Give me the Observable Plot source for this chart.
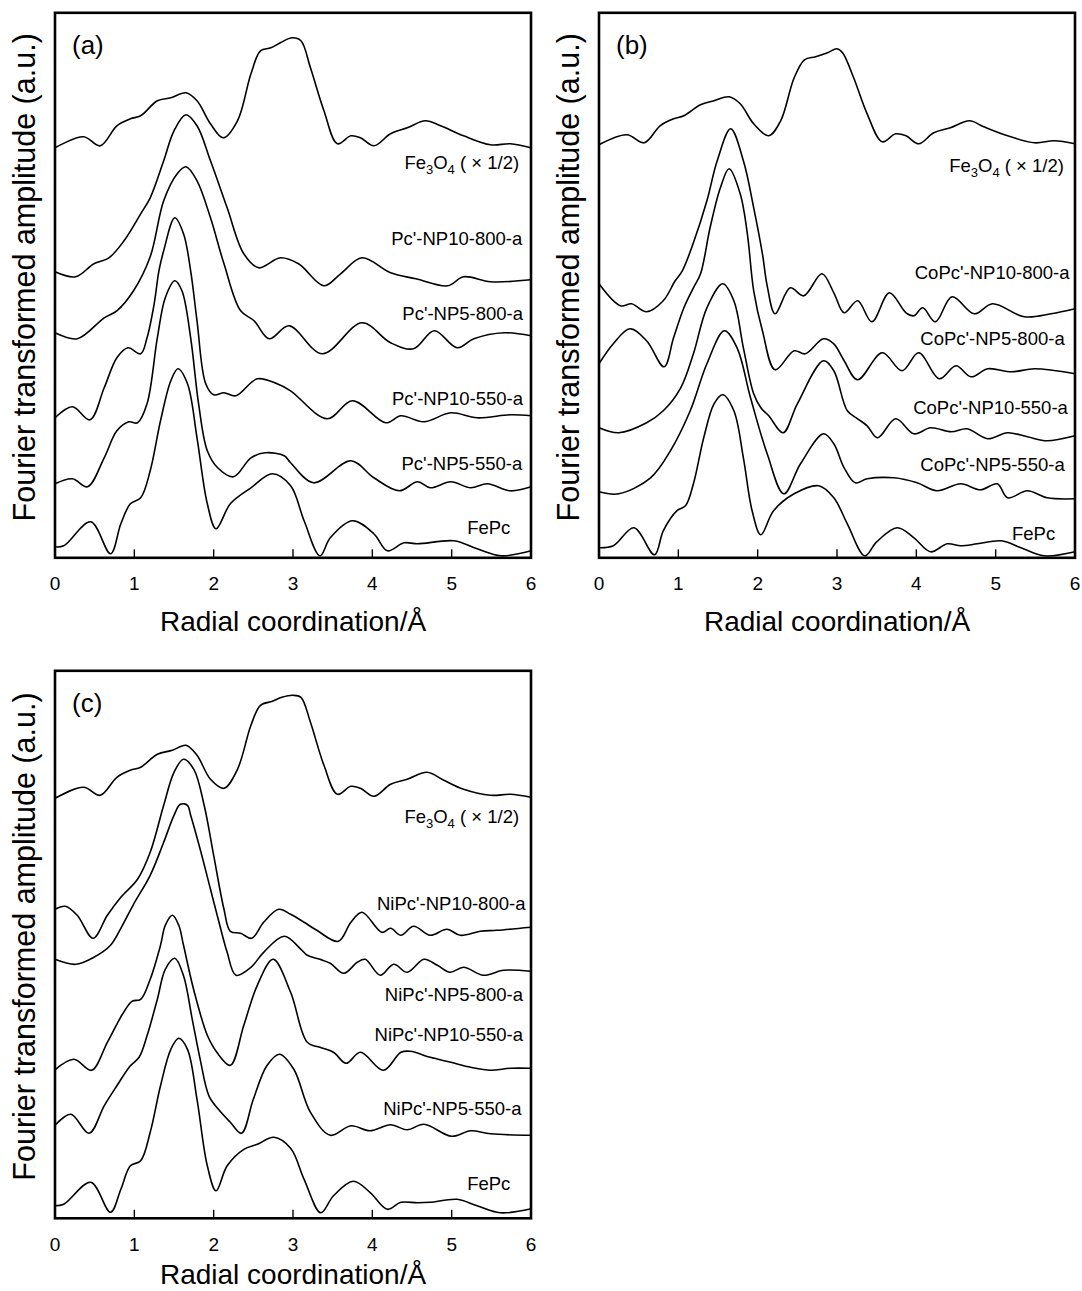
<!DOCTYPE html>
<html><head><meta charset="utf-8">
<script src="https://cdn.jsdelivr.net/npm/d3@7"></script>
<script src="https://cdn.jsdelivr.net/npm/@observablehq/plot@0.6"></script>
<style>
html,body{margin:0;padding:0;background:#fff;}
#wrap{position:relative;width:1082px;height:1291px;overflow:hidden;background:#fff;}
#wrap svg{position:absolute;overflow:visible;}
</style></head><body><div id="wrap"></div>
<script>
// ---------- shared ----------
const xTicks = [0, 1, 2, 3, 4, 5, 6];
const xTitle = "Radial coordination/Å";
const yTitle = "Fourier transformed amplitude (a.u.)";
const FE_LABEL = "Fe3O4 ( × 1/2)";

// ---------- panel (a) ----------
const aNames = [FE_LABEL, "Pc'-NP10-800-a", "Pc'-NP5-800-a", "Pc'-NP10-550-a", "Pc'-NP5-550-a", "FePc"];
const a_Fe3O4 = [[0,41.0],[0.36,42.1],[0.57,41.2],[0.78,43.2],[0.95,43.9],[1.08,44.2],[1.29,45.7],[1.46,46.0],[1.65,46.5],[1.79,45.7],[1.96,43.4],[2.12,42.0],[2.30,43.7],[2.47,48.4],[2.59,50.7],[2.72,51.0],[2.84,51.5],[2.99,52.0],[3.10,51.7],[3.22,49.0],[3.39,44.7],[3.56,41.4],[3.73,42.2],[3.85,42.0],[4.02,41.2],[4.23,42.4],[4.44,43.0],[4.67,43.7],[4.86,43.2],[5.15,42.2],[5.49,41.3],[5.74,41.4],[6.0,41.0]];
const a_NP10_800 = [[0,28.6],[0.26,28.1],[0.49,29.4],[0.68,30.0],[0.87,31.7],[1.08,34.4],[1.20,36.0],[1.37,39.7],[1.50,42.7],[1.65,44.3],[1.79,43.2],[1.96,39.7],[2.17,35.0],[2.38,30.4],[2.57,29.0],[2.84,30.0],[3.07,29.4],[3.39,27.2],[3.60,28.4],[3.87,30.0],[4.23,28.5],[4.55,27.9],[4.95,27.2],[5.15,28.1],[5.49,27.6],[6.0,27.8]];
const a_NP5_800 = [[0,22.5],[0.28,21.9],[0.62,24.0],[0.78,24.7],[0.99,26.7],[1.20,30.1],[1.37,35.7],[1.54,38.4],[1.65,39.1],[1.79,37.7],[1.96,34.0],[2.13,29.4],[2.34,24.7],[2.51,23.7],[2.70,21.9],[2.95,23.2],[3.37,20.4],[3.87,23.5],[4.23,21.5],[4.52,20.9],[4.78,22.7],[5.07,21.0],[5.28,21.9],[5.66,22.5],[6.0,22.2]];
const a_NP10_550 = [[0,14.0],[0.22,15.1],[0.44,13.8],[0.62,17.0],[0.78,20.0],[0.92,21.0],[1.08,20.4],[1.16,22.0],[1.25,25.4],[1.31,28.7],[1.37,30.7],[1.51,34.0],[1.62,32.4],[1.71,28.7],[1.79,23.7],[1.90,17.4],[2.00,16.3],[2.13,16.5],[2.28,16.2],[2.55,17.9],[2.80,17.4],[2.97,16.7],[3.43,13.9],[3.75,15.7],[4.17,13.5],[4.36,14.2],[4.65,13.6],[4.99,14.5],[5.32,14.0],[5.74,14.3],[6.0,14.2]];
const a_NP5_550 = [[0,7.4],[0.22,7.9],[0.41,7.1],[0.62,10.0],[0.78,12.7],[0.93,13.6],[1.04,13.5],[1.16,15.4],[1.29,22.0],[1.39,26.0],[1.51,27.7],[1.60,26.7],[1.71,22.0],[1.81,15.4],[1.92,10.7],[2.05,9.0],[2.25,8.1],[2.47,10.0],[2.65,10.5],[2.89,10.2],[2.97,9.5],[3.26,7.5],[3.73,9.7],[4.02,8.0],[4.34,6.7],[4.57,7.6],[4.73,7.0],[4.99,7.6],[5.24,7.0],[5.45,7.4],[5.74,6.7],[6.0,7.1]];
const a_FePc = [[0,1.1],[0.11,1.2],[0.45,3.6],[0.70,0.4],[0.83,3.4],[0.95,5.4],[1.08,6.0],[1.20,8.7],[1.33,13.7],[1.46,17.7],[1.55,18.9],[1.67,17.4],[1.79,12.0],[1.92,5.4],[2.03,2.9],[2.21,5.4],[2.47,7.0],[2.74,8.4],[2.97,7.2],[3.14,3.7],[3.34,0.2],[3.47,2.0],[3.75,3.7],[4.02,2.4],[4.19,0.7],[4.40,1.5],[4.57,1.4],[5.03,1.7],[5.32,0.9],[5.62,0.2],[6.0,0.7]];
const aLabelX = [5.85, 5.89, 5.90, 5.90, 5.89, 5.74];
const aLabelY = [39.5, 31.9, 24.4, 15.9, 9.4, 3.0];

// ---------- panel (b) ----------
const bNames = [FE_LABEL, "CoPc'-NP10-800-a", "CoPc'-NP5-800-a", "CoPc'-NP10-550-a", "CoPc'-NP5-550-a", "FePc"];
const b_Fe3O4 = [[0,41.3],[0.35,42.3],[0.57,41.5],[0.77,43.2],[0.94,43.9],[1.07,44.2],[1.28,45.3],[1.45,45.7],[1.64,46.1],[1.78,45.4],[1.95,43.4],[2.14,42.2],[2.29,43.7],[2.46,48.0],[2.59,49.8],[2.73,50.1],[2.88,50.5],[3.00,50.9],[3.07,50.5],[3.21,48.0],[3.38,44.4],[3.57,41.6],[3.74,42.4],[3.87,42.2],[4.03,41.4],[4.22,42.5],[4.43,43.0],[4.67,43.7],[4.85,43.1],[5.15,42.2],[5.49,41.5],[5.74,41.7],[6.0,41.4]];
const b_NP10_800 = [[0,27.4],[0.27,25.2],[0.41,25.4],[0.60,24.6],[0.81,25.7],[0.96,27.7],[1.05,28.7],[1.19,31.5],[1.36,35.7],[1.49,39.7],[1.66,42.9],[1.82,39.7],[1.95,35.0],[2.06,30.4],[2.12,27.2],[2.22,24.4],[2.41,27.0],[2.58,26.2],[2.81,28.4],[2.96,26.5],[3.09,24.5],[3.26,25.7],[3.44,23.6],[3.66,26.5],[3.87,24.5],[3.97,24.2],[4.08,25.0],[4.24,23.6],[4.45,26.1],[4.73,24.4],[4.96,25.4],[5.36,24.1],[5.70,24.4],[6.0,24.9]];
const b_NP5_800 = [[0,19.4],[0.18,21.4],[0.39,22.9],[0.60,21.7],[0.82,19.1],[0.94,22.0],[1.07,25.0],[1.19,27.0],[1.28,28.4],[1.40,33.0],[1.53,37.0],[1.64,38.9],[1.78,36.4],[1.87,32.4],[1.95,26.7],[2.06,22.7],[2.22,18.8],[2.46,20.7],[2.60,20.4],[2.83,21.9],[2.96,21.4],[3.09,19.7],[3.26,17.8],[3.57,20.5],[3.82,18.7],[4.03,20.5],[4.29,17.9],[4.50,19.2],[4.69,18.1],[4.90,18.9],[5.20,18.6],[5.49,18.9],[6.0,18.4]];
const b_NP10_550 = [[0,13.0],[0.25,12.5],[0.60,13.5],[0.81,14.7],[1.03,17.0],[1.19,20.4],[1.36,25.0],[1.56,27.4],[1.70,25.7],[1.82,21.0],[1.95,16.4],[2.04,15.0],[2.14,14.2],[2.32,12.5],[2.50,15.4],[2.83,19.7],[2.96,18.7],[3.13,14.7],[3.26,13.9],[3.38,13.2],[3.51,12.0],[3.74,13.9],[3.97,12.4],[4.18,13.0],[4.44,12.6],[4.64,12.9],[4.90,11.9],[5.15,12.5],[5.40,12.1],[5.65,11.7],[6.0,12.2]];
const b_NP5_550 = [[0,6.6],[0.25,6.4],[0.65,8.0],[0.90,10.7],[1.15,14.7],[1.36,19.4],[1.58,22.7],[1.74,21.0],[1.91,16.0],[2.12,10.4],[2.33,6.4],[2.54,9.4],[2.83,12.4],[2.96,11.4],[3.09,9.0],[3.23,7.5],[3.38,7.9],[3.72,8.0],[4.01,7.5],[4.26,6.7],[4.56,7.4],[4.81,6.8],[5.02,7.4],[5.15,6.0],[5.40,6.7],[5.65,6.0],[6.0,5.9]];
const b_FePc = [[0,1.0],[0.18,1.2],[0.44,3.0],[0.70,0.3],[0.81,2.7],[0.98,4.7],[1.09,5.2],[1.19,7.4],[1.32,12.0],[1.45,15.4],[1.56,16.3],[1.70,14.7],[1.82,10.0],[1.93,4.7],[2.04,2.3],[2.20,4.7],[2.46,6.4],[2.77,7.2],[2.96,6.0],[3.13,3.4],[3.35,0.2],[3.50,1.6],[3.76,3.0],[3.97,2.0],[4.18,0.6],[4.39,1.4],[4.56,1.2],[4.77,1.4],[5.07,1.7],[5.32,1.0],[5.61,0.2],[6.0,0.6]];
const bLabelX = [5.86, 5.93, 5.87, 5.91, 5.87, 5.75];
const bLabelY = [39.2, 28.5, 21.9, 15.0, 9.3, 2.4];

// ---------- panel (c) ----------
const cNames = [FE_LABEL, "NiPc'-NP10-800-a", "NiPc'-NP5-800-a", "NiPc'-NP10-550-a", "NiPc'-NP5-550-a", "FePc"];
const c_Fe3O4 = [[0,42.0],[0.36,43.1],[0.57,42.3],[0.78,44.1],[0.95,44.8],[1.08,45.1],[1.29,46.4],[1.48,46.8],[1.65,47.3],[1.79,46.3],[1.96,43.9],[2.13,43.0],[2.30,44.9],[2.47,49.3],[2.59,51.3],[2.74,51.7],[2.86,52.1],[3.00,52.3],[3.10,52.1],[3.22,49.6],[3.39,45.3],[3.56,42.4],[3.73,43.2],[3.85,43.0],[4.02,42.2],[4.23,43.4],[4.44,43.9],[4.69,44.6],[4.90,43.8],[5.15,42.9],[5.49,42.3],[5.74,42.4],[6.0,42.1]];
const c_NP10_800 = [[0,30.9],[0.13,31.2],[0.28,30.3],[0.48,28.0],[0.66,30.3],[0.83,32.1],[1.04,33.9],[1.20,36.6],[1.37,41.3],[1.50,44.6],[1.62,45.9],[1.75,44.9],[1.88,41.3],[2.00,36.3],[2.13,30.9],[2.21,28.7],[2.34,28.5],[2.48,28.0],[2.63,29.6],[2.82,30.9],[2.97,30.4],[3.14,29.6],[3.30,28.8],[3.57,27.7],[3.73,29.6],[3.87,30.6],[4.12,28.6],[4.23,29.0],[4.36,28.3],[4.52,29.2],[4.73,28.3],[4.94,28.9],[5.11,28.3],[5.36,28.7],[5.57,28.8],[6.0,29.1]];
const c_NP5_800 = [[0,25.9],[0.26,25.4],[0.49,26.1],[0.70,27.3],[0.85,29.3],[0.99,31.4],[1.20,34.3],[1.37,37.6],[1.50,40.3],[1.58,41.4],[1.67,41.3],[1.71,40.3],[1.83,36.9],[1.96,32.9],[2.09,28.9],[2.17,26.6],[2.28,24.3],[2.47,25.1],[2.63,26.6],[2.89,28.2],[3.10,26.9],[3.18,26.3],[3.34,25.9],[3.47,25.5],[3.64,24.5],[3.81,25.6],[3.91,25.9],[4.10,24.3],[4.27,25.4],[4.44,24.6],[4.65,25.9],[4.82,25.3],[4.98,24.6],[5.15,25.1],[5.40,24.3],[5.65,24.8],[6.0,24.7]];
const c_NP10_550 = [[0,14.85],[0.24,15.9],[0.46,14.8],[0.66,17.6],[0.85,20.4],[0.97,21.7],[1.08,21.9],[1.20,23.9],[1.33,27.3],[1.39,29.3],[1.48,30.3],[1.56,29.3],[1.62,27.3],[1.75,22.8],[1.92,18.3],[2.04,16.6],[2.21,15.3],[2.38,19.3],[2.55,23.3],[2.75,25.9],[2.97,22.6],[3.18,17.6],[3.34,17.1],[3.51,16.6],[3.67,15.5],[3.85,16.6],[4.14,14.8],[4.36,16.6],[4.48,16.7],[4.73,16.1],[4.99,15.6],[5.24,15.1],[5.49,14.8],[5.74,15.0],[6.0,15.0]];
const c_NP5_550 = [[0,9.3],[0.20,10.4],[0.43,8.5],[0.62,11.25],[0.78,13.25],[0.95,15.25],[1.06,16.1],[1.16,18.25],[1.29,21.9],[1.39,24.9],[1.51,26.0],[1.62,24.25],[1.73,19.9],[1.83,15.9],[1.94,12.25],[2.06,10.9],[2.21,9.6],[2.35,8.5],[2.50,11.9],[2.67,15.25],[2.83,16.4],[3.01,14.9],[3.22,10.6],[3.47,8.3],[3.73,9.25],[3.97,8.75],[4.23,9.35],[4.44,8.85],[4.65,9.4],[5.00,8.2],[5.24,8.75],[5.49,8.45],[6.0,8.3]];
const c_FePc = [[0,1.25],[0.11,1.4],[0.45,3.6],[0.70,0.6],[0.83,2.9],[0.95,5.25],[1.08,5.75],[1.20,8.6],[1.33,13.25],[1.46,16.9],[1.56,18.0],[1.67,16.9],[1.79,11.9],[1.92,5.25],[2.03,2.75],[2.17,5.25],[2.38,6.9],[2.55,7.4],[2.76,8.1],[2.97,7.0],[3.14,3.9],[3.35,0.55],[3.51,2.25],[3.76,3.7],[3.97,2.6],[4.19,0.9],[4.36,1.6],[4.57,1.55],[4.73,1.6],[5.07,1.9],[5.32,1.25],[5.61,0.55],[6.0,0.95]];
const cLabelX = [5.85, 5.93, 5.90, 5.90, 5.88, 5.74];
const cLabelY = [40.1, 31.4, 22.3, 18.3, 10.9, 3.4];

// ---------- drawing ----------
const FONT = "'Liberation Sans', Arial, Helvetica, sans-serif";

function panel({tag, names, values, labelX, labelY, frameH, svgH, left, top, xTitleDy}) {
  const rows = values.flatMap((v, i) => v.map(([x, y]) => ({name: names[i], x, y})));
  const labels = names.map((n, i) => ({name: n, x: labelX[i], y: labelY[i]}));
  const mT = 12.3;
  const svg = Plot.plot({
    width: 541, height: svgH,
    marginLeft: 54.5, marginRight: 10.5, marginTop: mT, marginBottom: svgH - mT - frameH,
    style: {fontFamily: FONT, background: "white", color: "black", overflow: "visible"},
    x: {domain: [0, 6], label: null},
    y: {domain: [0, frameH / 10], axis: null, label: null},
    marks: [
      Plot.line(rows, {x: "x", y: "y", z: "name", curve: "catmull-rom", stroke: "black", strokeWidth: 1.6}),
      Plot.tickX(xTicks, {x: d => d, insetTop: frameH - 8, stroke: "black", strokeWidth: 1.4}),
      Plot.axisX({ticks: xTicks, tickSize: 0, tickPadding: 19, fontSize: 19, label: null, tickFormat: d => String(d)}),
      Plot.frame({stroke: "black", strokeWidth: 2.6}),
      Plot.text(labels, {x: "x", y: "y", text: "name", textAnchor: "end", fontSize: 18.5, fill: "black"}),
      Plot.text([tag], {frameAnchor: "top-left", dx: 17, dy: 33, textAnchor: "start", lineAnchor: "middle", fontSize: 26, fill: "black"}),
      Plot.text([yTitle], {frameAnchor: "left", rotate: -90, dx: -29.5, dy: -8, textAnchor: "middle", lineAnchor: "middle", fontSize: 30.5, fill: "black"}),
      Plot.text([xTitle], {frameAnchor: "bottom", dy: xTitleDy, textAnchor: "middle", lineAnchor: "middle", fontSize: 28, fill: "black"})
    ]
  });
  svg.style.left = left + "px";
  svg.style.top = top + "px";
  d3.select(svg).selectAll("text").filter(function () { return this.textContent === FE_LABEL; }).each(function () {
    const t = d3.select(this);
    t.text(null);
    t.append("tspan").text("Fe");
    t.append("tspan").attr("font-size", 13).attr("dy", 5).text("3");
    t.append("tspan").attr("dy", -5).text("O");
    t.append("tspan").attr("font-size", 13).attr("dy", 5).text("4");
    t.append("tspan").attr("dy", -5).text(" ( × 1/2)");
  });
  document.getElementById("wrap").appendChild(svg);
}

panel({tag: "(a)", names: aNames, values: [a_Fe3O4, a_NP10_800, a_NP5_800, a_NP10_550, a_NP5_550, a_FePc],
  labelX: aLabelX, labelY: aLabelY, frameH: 545, svgH: 650, left: 0, top: 0, xTitleDy: 64});
panel({tag: "(b)", names: bNames, values: [b_Fe3O4, b_NP10_800, b_NP5_800, b_NP10_550, b_NP5_550, b_FePc],
  labelX: bLabelX, labelY: bLabelY, frameH: 545, svgH: 650, left: 544, top: 0, xTitleDy: 64});
panel({tag: "(c)", names: cNames, values: [c_Fe3O4, c_NP10_800, c_NP5_800, c_NP10_550, c_NP5_550, c_FePc],
  labelX: cLabelX, labelY: cLabelY, frameH: 547.5, svgH: 633, left: 0, top: 657.7, xTitleDy: 57});
</script></body></html>
